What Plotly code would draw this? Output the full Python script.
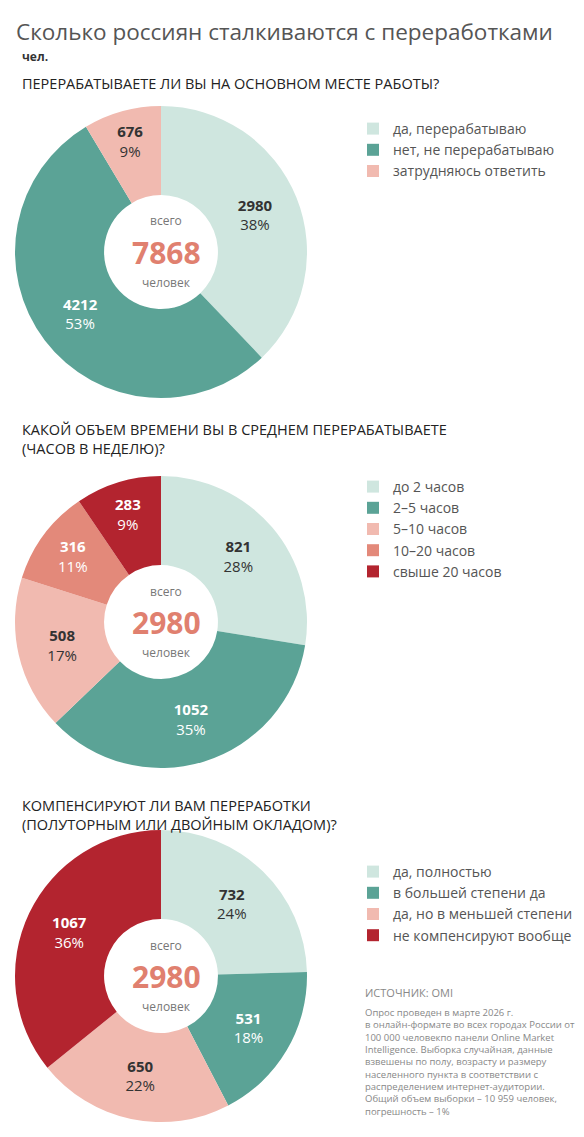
import plotly.graph_objects as go

W, H = 584, 1137
labels1 = ["да, перерабатываю", "нет, не перерабатываю", "затрудняюсь ответить"]
values1 = [2980, 4212, 676]
pct1 = [38, 53, 9]
labels2 = ["до 2 часов", "2–5 часов", "5–10 часов", "10–20 часов", "свыше 20 часов"]
values2 = [821, 1052, 508, 316, 283]
pct2 = [28, 35, 17, 11, 9]
labels3 = ["да, полностью", "в большей степени да", "да, но в меньшей степени", "не компенсируют вообще"]
values3 = [732, 531, 650, 1067]
pct3 = [24, 18, 22, 36]
totals = [7868, 2980, 2980]

MINT, TEAL, PINK, SALMON, RED = "#cfe6df", "#5ba396", "#f1bab0", "#e3897a", "#b3242f"
colors1 = [MINT, TEAL, PINK]
colors2 = [MINT, TEAL, PINK, SALMON, RED]
colors3 = [MINT, TEAL, PINK, RED]
FONT = "Open Sans, Noto Sans, sans-serif"

def py(px):
    return 1 - px / H

def tcol(c):
    return "white" if c in (TEAL, SALMON, RED) else "#333"

fig = go.Figure()
pies = [
    (labels1, values1, pct1, colors1, 98, "legend"),
    (labels2, values2, pct2, colors2, 468, "legend2"),
    (labels3, values3, pct3, colors3, 822, "legend3"),
]
for labs, vals, pcts, cols, top, lg in pies:
    fig.add_trace(go.Pie(
        labels=labs, values=vals, marker=dict(colors=cols, line=dict(width=0)),
        text=[f"<b>{v}</b><br>{p}%" for v, p in zip(vals, pcts)],
        textinfo="text", textposition="inside", insidetextorientation="horizontal",
        textfont=dict(size=15, color=[tcol(c) for c in cols], family=FONT),
        hole=0.39, sort=False, direction="clockwise", rotation=0,
        domain=dict(x=[6 / W, 300 / W], y=[py(top + 292), py(top)]),
        legend=lg, hoverinfo="label+value",
    ))

leg = dict(x=345 / W, xanchor="left", yanchor="top", font=dict(size=14, color="#555", family=FONT),
           itemsizing="constant", tracegroupgap=0, bgcolor="rgba(0,0,0,0)")
fig.update_layout(
    width=W, height=H, margin=dict(l=0, r=0, t=0, b=0), paper_bgcolor="white",
    legend=dict(leg, y=py(105)),
    legend2=dict(leg, y=py(463)),
    legend3=dict(leg, y=py(848)),
)

ann = []
def A(x, y, t, size, color="#333", xa="left", ya="top", **kw):
    ann.append(dict(x=x / W, y=py(y), xref="paper", yref="paper", text=t, showarrow=False,
                    xanchor=xa, yanchor=ya, align="left", font=dict(size=size, color=color, family=FONT), **kw))

A(6, 6, "Сколько россиян сталкиваются с переработками", 22.5, "#555")
A(12, 38, "<b>чел.</b>", 12)
A(12, 64, "ПЕРЕРАБАТЫВАЕТЕ ЛИ ВЫ НА ОСНОВНОМ МЕСТЕ РАБОТЫ?", 14.5, "#222")
A(12, 410, "КАКОЙ ОБЪЕМ ВРЕМЕНИ ВЫ В СРЕДНЕМ ПЕРЕРАБАТЫВАЕТЕ<br>(ЧАСОВ В НЕДЕЛЮ)?", 14.5, "#222")
A(12, 786, "КОМПЕНСИРУЮТ ЛИ ВАМ ПЕРЕРАБОТКИ<br>(ПОЛУТОРНЫМ ИЛИ ДВОЙНЫМ ОКЛАДОМ)?", 14.5, "#222")
for cy, tot in zip([243, 613, 967], totals):
    A(158, cy - 30, "всего", 12, "#777", xa="center", ya="middle")
    A(158, cy + 1, f"<b>{tot}</b>", 30, "#e0806f", xa="center", ya="middle")
    A(158, cy + 31, "человек", 12, "#777", xa="center", ya="middle")
A(355, 975, "ИСТОЧНИК: OMI", 11, "#888")
A(355, 996, "Опрос проведен в марте 2026 г.<br>в онлайн-формате во всех городах России от<br>100 000 человекпо панели Online Market<br>Intelligence. Выборка случайная, данные<br>взвешены по полу, возрасту и размеру<br>населенного пункта в соответствии с<br>распределением интернет-аудитории.<br>Общий объем выборки – 10 959 человек,<br>погрешность – 1%", 9.5, "#888")
fig.update_layout(annotations=ann)
fig.write_html("out.html")
